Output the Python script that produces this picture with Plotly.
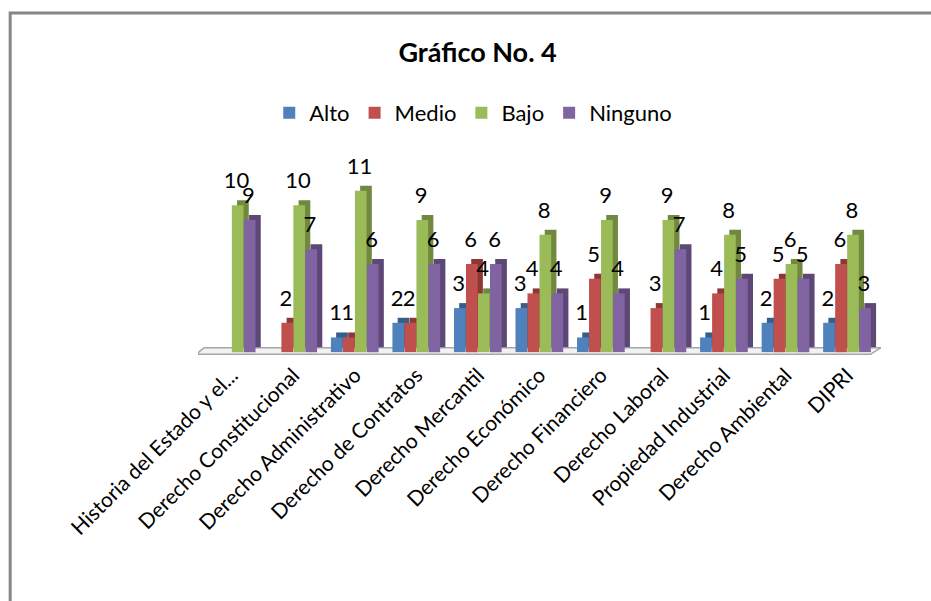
import plotly.graph_objects as go

categories = ["Historia del Estado y el...", "Derecho Constitucional", "Derecho Administrativo",
              "Derecho de Contratos", "Derecho Mercantil", "Derecho Económico",
              "Derecho Financiero", "Derecho Laboral", "Propiedad Industrial",
              "Derecho Ambiental", "DIPRI"]
series_names = ["Alto", "Medio", "Bajo", "Ninguno"]
alto = [0, 0, 1, 2, 3, 3, 1, 0, 1, 2, 2]
medio = [0, 2, 1, 2, 6, 4, 5, 3, 4, 5, 6]
bajo = [10, 10, 11, 9, 4, 8, 9, 9, 8, 6, 8]
ninguno = [9, 7, 6, 6, 6, 4, 4, 7, 5, 5, 3]
values = [alto, medio, bajo, ninguno]

front_colors = ["#4F81BD", "#C0504D", "#9BBB59", "#8064A2"]
side_colors = ["#385D8A", "#8C3836", "#71893F", "#5C4776"]
FONT = "Lato, 'Open Sans', 'Liberation Sans', sans-serif"

bw = 0.19
offsets = [-0.39, -0.195, 0.0, 0.195]
dx = 0.085   # depth shift (x)
dy = 0.34    # depth shift (y)
label_gap = 0.45

idx = list(range(len(categories)))
fig = go.Figure()

# side/top faces (drawn first)
for s in range(4):
    xs = [i + offsets[s] + bw / 2 + dx for i in idx]
    fig.add_trace(go.Bar(x=xs, y=values[s], base=[dy] * len(idx),
                         width=bw, marker=dict(color=side_colors[s], line=dict(width=0)),
                         showlegend=False, hoverinfo="skip"))
# front faces
for s in range(4):
    xs = [i + offsets[s] + bw / 2 for i in idx]
    fig.add_trace(go.Bar(x=xs, y=values[s], width=bw, name=series_names[s],
                         marker=dict(color=front_colors[s], line=dict(width=0))))
# labels
for s in range(4):
    xs = [i + offsets[s] + bw / 2 - 0.02 for i in idx]
    fig.add_trace(go.Scatter(x=xs, y=[v + dy + label_gap for v in values[s]], mode="text",
                             text=[str(v) if v else "" for v in values[s]],
                             textposition="top center",
                             textfont=dict(size=22, color="black", family=FONT),
                             showlegend=False, hoverinfo="skip", cliponaxis=False))

# floor
fig.add_shape(type="path", xref="x", yref="y", layer="below",
              path="M -0.58,-0.15 L 10.38,-0.15 L 10.55,0.3 L -0.45,0.3 Z",
              fillcolor="#F2F2F2", line=dict(color="#A6A6A6", width=1.5))
# outer frame
fig.add_shape(type="rect", xref="paper", yref="paper",
              x0=-0.275, x1=1.09, y0=-1.22, y1=1.667,
              line=dict(color="#868686", width=3))

fig.update_layout(
    width=931, height=601,
    barmode="overlay",
    paper_bgcolor="white", plot_bgcolor="white",
    margin=dict(l=198, r=50, t=151, b=243),
    font=dict(family=FONT, color="black"),
    title=dict(text="Gráfico No. 4", x=0.513, xanchor="center", y=0.913, yanchor="middle",
               xref="container", yref="container",
               font=dict(size=27, family=FONT, weight="bold", color="black")),
    legend=dict(orientation="h", x=0.403, xanchor="center", y=1.184, yanchor="middle",
                font=dict(size=22, family=FONT), traceorder="normal"),
    xaxis=dict(range=[-0.55, 10.55], tickvals=idx, ticktext=categories, tickangle=-45,
               showgrid=False, zeroline=False, showline=False, ticks="",
               tickfont=dict(size=21, family=FONT, color="black")),
    yaxis=dict(range=[-0.4, 13.7], visible=False, showgrid=False, zeroline=False),
    showlegend=True,
)

fig.write_html("out.html", config={"displayModeBar": False},
               post_script="document.body.style.margin='0';document.body.style.overflow='hidden';")
